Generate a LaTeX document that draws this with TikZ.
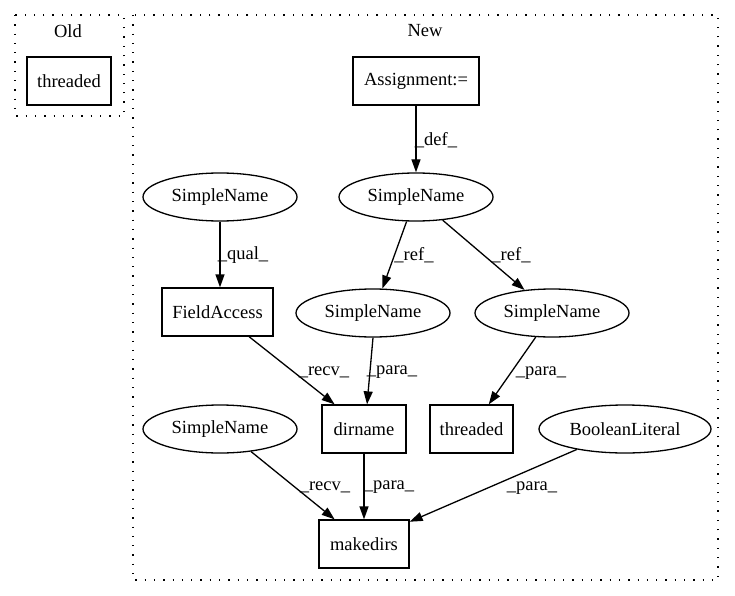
\documentclass[tikz,border=0pt]{standalone}
\usepackage{fontspec}
\setmainfont{Liberation Serif}
\usetikzlibrary{shapes.geometric,arrows.meta}
\begin{document}
\begin{tikzpicture}[x=1pt,y=-1pt,
  every node/.style={font=\fontsize{18.5}{22}\selectfont},
  box/.style={draw,rectangle,minimum height=48pt,inner sep=0pt,line width=1.3pt},
  ell/.style={draw,ellipse,minimum width=154pt,minimum height=48pt,inner sep=0pt,line width=1.3pt},
  lbl/.style={font=\fontsize{18.5}{22}\selectfont,inner sep=0pt},
  edge/.style={-{Triangle[length=13pt,width=9pt]},line width=1.3pt},
  cluster/.style={draw,line width=1.3pt,dash pattern=on 1.3pt off 8pt}]
\useasboundingbox (0,0) rectangle (735,596);
\draw[cluster] (15,15) rectangle (124,116);
\node[lbl] (oldlbl) at (68,31) {Old};
\draw[cluster] (133,15) rectangle (718,580);
\node[lbl] (newlbl) at (425,31) {New};

\node[box,minimum width=84pt] (thrOld) at (69,81) {threaded};
\node[box,minimum width=126pt] (assign) at (416,81) {Assignment:=};
\node[ell] (snTop) at (416,197) {SimpleName};
\node[ell] (snLeft) at (220,197) {SimpleName};
\node[box,minimum width=111pt] (fa) at (217.5,312) {FieldAccess};
\node[ell] (snMid) at (373,313) {SimpleName};
\node[ell] (snRight) at (552,313) {SimpleName};
\node[box,minimum width=84pt] (dirname) at (364,429) {dirname};
\node[box,minimum width=83pt] (thrNew) at (471.5,429) {threaded};
\node[ell,minimum width=172pt] (bool) at (625,429) {BooleanLiteral};
\node[ell] (snBL) at (220,429) {SimpleName};
\node[box,minimum width=90pt] (makedirs) at (364,544) {makedirs};

\draw[edge] (assign.south) -- (snTop.north);
\node[lbl] (l1) at (436,140) {\_def\_};
\draw[edge] (snTop.-111) -- (snMid.69);
\node[lbl] (l2) at (414,255) {\_ref\_};
\draw[edge] (snTop.-41) -- (snRight.140);
\node[lbl] (l3) at (511,255) {\_ref\_};
\draw[edge] (snLeft.south) -- (snLeft.south |- fa.north);
\node[lbl] (l4) at (243,255) {\_qual\_};
\draw[edge] (fa.-38) -- (dirname.140);
\node[lbl] (l5) at (324,372) {\_recv\_};
\draw[edge] (snMid.south) -- (dirname.83);
\node[lbl] (l6) at (392,372) {\_para\_};
\draw[edge] (snRight.-124) -- (thrNew.55);
\node[lbl] (l7) at (541,373) {\_para\_};
\draw[edge] (dirname.south) -- (makedirs.north);
\node[lbl] (l8) at (389,487) {\_para\_};
\draw[edge] (snBL.-36) -- (makedirs.140);
\node[lbl] (l9) at (325,487) {\_recv\_};
\draw[edge] (bool.-157) -- (makedirs.26);
\node[lbl] (l10) at (532,488) {\_para\_};
\end{tikzpicture}
\end{document}
